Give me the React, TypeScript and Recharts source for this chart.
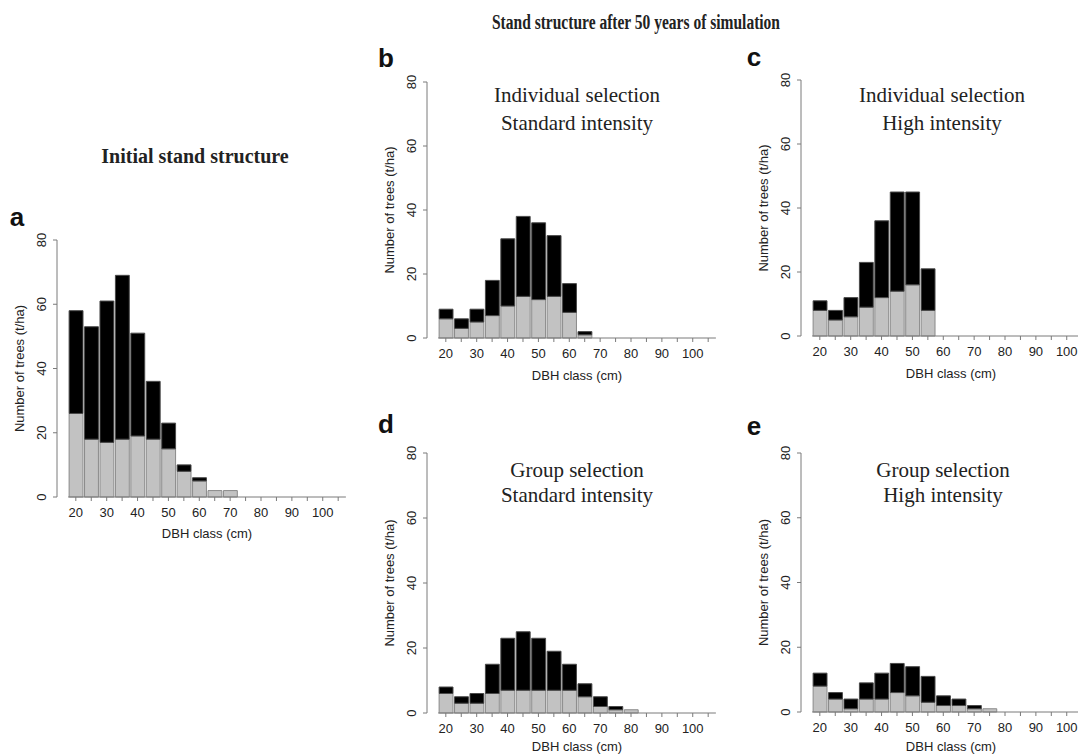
import React from "react";
import { Bar, BarChart, ReferenceLine, XAxis, YAxis } from "recharts";

// DBH classes (cm), 5 cm wide, centred on the value
const dbhClasses = [20, 25, 30, 35, 40, 45, 50, 55, 60, 65, 70, 75, 80, 85, 90, 95, 100, 105];
const yTicks = [0, 20, 40, 60, 80];

// a: initial stand structure (grey = lower part, black = upper part), trees/ha
const initialLower = [26, 18, 17, 18, 19, 18, 15, 8, 5, 2, 2, 0, 0, 0, 0, 0, 0, 0];
const initialUpper = [32, 35, 44, 51, 32, 18, 8, 2, 1, 0, 0, 0, 0, 0, 0, 0, 0, 0];

// b: individual selection, standard intensity
const indivStdLower = [6, 3, 5, 7, 10, 13, 12, 13, 8, 1, 0, 0, 0, 0, 0, 0, 0, 0];
const indivStdUpper = [3, 3, 4, 11, 21, 25, 24, 19, 9, 1, 0, 0, 0, 0, 0, 0, 0, 0];

// c: individual selection, high intensity
const indivHighLower = [8, 5, 6, 9, 12, 14, 16, 8, 0, 0, 0, 0, 0, 0, 0, 0, 0, 0];
const indivHighUpper = [3, 3, 6, 14, 24, 31, 29, 13, 0, 0, 0, 0, 0, 0, 0, 0, 0, 0];

// d: group selection, standard intensity
const groupStdLower = [6, 3, 3, 6, 7, 7, 7, 7, 7, 5, 2, 1, 1, 0, 0, 0, 0, 0];
const groupStdUpper = [2, 2, 3, 9, 16, 18, 16, 12, 8, 4, 3, 1, 0, 0, 0, 0, 0, 0];

// e: group selection, high intensity
const groupHighLower = [8, 4, 1, 4, 4, 6, 5, 3, 2, 2, 1, 1, 0, 0, 0, 0, 0, 0];
const groupHighUpper = [4, 2, 3, 5, 8, 9, 9, 8, 3, 2, 1, 0, 0, 0, 0, 0, 0, 0];

const X_MIN = 13.9;
const X_MAX = 111.1;
const PLOT_W = 300;
const Y_AXIS_W = 50;
const MARGIN_TOP = 10;
const MARGIN_RIGHT = 10;
const X_AXIS_H = 30;

const SANS = "'Liberation Sans', Arial, sans-serif";
const SERIF = "'Liberation Serif', 'Times New Roman', serif";
const AXIS = "#7a7a7a";
const INK = "#222";

const rows = (lower: number[], upper: number[]) =>
  dbhClasses.map((d, i) => ({ dbh: d, lower: lower[i], upper: upper[i] }));

const YTick = (props: any) => {
  const { x, y, payload } = props;
  return (
    <text
      x={x}
      y={y}
      dy="0.36em"
      transform={`rotate(-90 ${x} ${y})`}
      textAnchor="middle"
      fontSize={13}
      fontFamily={SANS}
      fill={INK}
    >
      {payload.value}
    </text>
  );
};

function Panel({
  data,
  left,
  top,
  plotH,
}: {
  data: { dbh: number; lower: number; upper: number }[];
  left: number;
  top: number;
  plotH: number;
}) {
  const width = Y_AXIS_W + PLOT_W + MARGIN_RIGHT;
  const height = MARGIN_TOP + plotH + X_AXIS_H;
  const barSize = (PLOT_W * 5) / (X_MAX - X_MIN);
  return (
    <div style={{ position: "absolute", left: left - Y_AXIS_W, top: top - MARGIN_TOP }}>
      <BarChart
        width={width}
        height={height}
        data={data}
        margin={{ top: MARGIN_TOP, right: MARGIN_RIGHT, left: 0, bottom: 0 }}
        barSize={barSize}
        barGap={0}
        barCategoryGap={0}
      >
        <XAxis
          type="number"
          dataKey="dbh"
          domain={[X_MIN, X_MAX]}
          allowDataOverflow
          ticks={dbhClasses}
          interval={0}
          tickFormatter={(v: number) => (v % 10 === 0 && v <= 100 ? String(v) : "")}
          axisLine={false}
          tickLine={{ stroke: AXIS }}
          tickSize={4}
          tickMargin={7}
          height={X_AXIS_H}
          tick={{ fontSize: 13, fontFamily: SANS, fill: INK }}
        />
        <YAxis
          type="number"
          domain={[0, 80]}
          ticks={yTicks}
          interval={0}
          width={Y_AXIS_W}
          axisLine={{ stroke: AXIS }}
          tickLine={{ stroke: AXIS }}
          tickSize={4}
          tickMargin={12}
          tick={YTick}
        />
        <ReferenceLine
          segment={[
            { x: 17.5, y: 0 },
            { x: 107.5, y: 0 },
          ]}
          stroke={AXIS}
          ifOverflow="visible"
        />
        <Bar
          dataKey="lower"
          stackId="s"
          fill="#c2c2c2"
          stroke="#8a8a8a"
          strokeWidth={1}
          isAnimationActive={false}
        />
        <Bar
          dataKey="upper"
          stackId="s"
          fill="#000"
          stroke="#4a4a4a"
          strokeWidth={1}
          isAnimationActive={false}
        />
      </BarChart>
    </div>
  );
}

const panels = [
  { key: "a", data: rows(initialLower, initialUpper), left: 57, top: 240, plotH: 257, xlabGap: 36, subX: 0 },
  { key: "b", data: rows(indivStdLower, indivStdUpper), left: 427, top: 82, plotH: 256, xlabGap: 37, subX: 577 },
  { key: "c", data: rows(indivHighLower, indivHighUpper), left: 801, top: 80, plotH: 256, xlabGap: 37, subX: 942 },
  { key: "d", data: rows(groupStdLower, groupStdUpper), left: 427, top: 453, plotH: 260, xlabGap: 33, subX: 577 },
  { key: "e", data: rows(groupHighLower, groupHighUpper), left: 801, top: 453, plotH: 259, xlabGap: 34, subX: 943 },
];

const subtitles: Record<string, [string, string]> = {
  b: ["Individual selection", "Standard intensity"],
  c: ["Individual selection", "High intensity"],
  d: ["Group selection", "Standard intensity"],
  e: ["Group selection", "High intensity"],
};

const letters = [
  { t: "a", x: 17, y: 226 },
  { t: "b", x: 386, y: 67 },
  { t: "c", x: 754, y: 66 },
  { t: "d", x: 386, y: 433 },
  { t: "e", x: 754, y: 435 },
];

export default function App() {
  return (
    <div
      style={{
        position: "absolute",
        left: 0,
        top: 0,
        width: 1078,
        height: 756,
        overflow: "hidden",
        background: "#fff",
      }}
    >
      {panels.map((p) => (
        <Panel key={p.key} data={p.data} left={p.left} top={p.top} plotH={p.plotH} />
      ))}
      <svg
        width={1078}
        height={756}
        style={{ position: "absolute", left: 0, top: 0, pointerEvents: "none" }}
      >
        <text
          x={636}
          y={29}
          textAnchor="middle"
          fontFamily={SERIF}
          fontWeight="bold"
          fontSize={20}
          textLength={288}
          lengthAdjust="spacingAndGlyphs"
          fill={INK}
        >
          Stand structure after 50 years of simulation
        </text>
        <text
          x={195}
          y={163}
          textAnchor="middle"
          fontFamily={SERIF}
          fontWeight="bold"
          fontSize={20}
          fill={INK}
        >
          Initial stand structure
        </text>
        {letters.map((l) => (
          <text
            key={l.t}
            x={l.x}
            y={l.y}
            textAnchor="middle"
            fontFamily={SANS}
            fontWeight="bold"
            fontSize={26}
            fill="#111"
          >
            {l.t}
          </text>
        ))}
        {panels.map((p) => {
          const cx = p.left + PLOT_W / 2;
          const cy = p.top + p.plotH / 2;
          const y0 = p.top + p.plotH;
          const sub = subtitles[p.key];
          const subBase = p.top < 200 ? [102, 130] : [477, 502];
          return (
            <g key={p.key}>
              <text
                x={p.left - 38}
                y={cy}
                dy="0.36em"
                transform={`rotate(-90 ${p.left - 38} ${cy})`}
                textAnchor="middle"
                fontFamily={SANS}
                fontSize={13}
                fill={INK}
              >
                Number of trees (t/ha)
              </text>
              <text
                x={cx}
                y={y0 + p.xlabGap + 4.5}
                textAnchor="middle"
                fontFamily={SANS}
                fontSize={13}
                fill={INK}
              >
                DBH class (cm)
              </text>
              {sub &&
                sub.map((s, i) => (
                  <text
                    key={s}
                    x={p.subX}
                    y={subBase[i]}
                    textAnchor="middle"
                    fontFamily={SERIF}
                    fontSize={21}
                    fill={INK}
                  >
                    {s}
                  </text>
                ))}
            </g>
          );
        })}
      </svg>
    </div>
  );
}
